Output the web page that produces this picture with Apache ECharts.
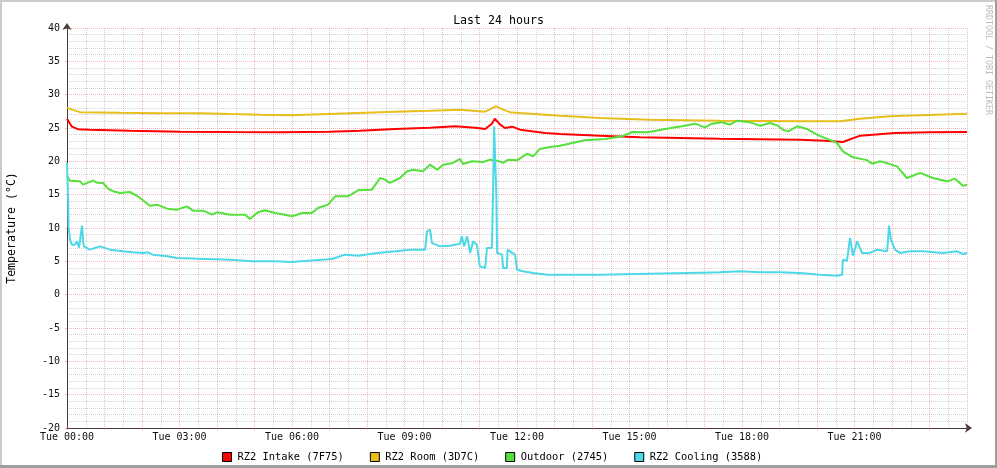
<!DOCTYPE html>
<html><head><meta charset="utf-8">
<script src="https://cdn.jsdelivr.net/npm/echarts@6/dist/echarts.min.js"></script>
<style>html,body{margin:0;padding:0;background:#fff}#c{width:997px;height:468px}</style>
</head><body><div id="c"></div>
<script>
// time in hours since Tue 00:00, value in °C
const seriesNames = ['RZ2 Intake (7F75)', 'RZ2 Room (3D7C)', 'Outdoor (2745)', 'RZ2 Cooling (3588)'];
const tickHours = [0, 3, 6, 9, 12, 15, 18, 21];
const tickLabels = ['Tue 00:00','Tue 03:00','Tue 06:00','Tue 09:00','Tue 12:00','Tue 15:00','Tue 18:00','Tue 21:00'];

const intake = [[0,26.4],[0.05,26.1],[0.13,25.2],[0.29,24.83],[0.61,24.75],[1.68,24.6],[3.01,24.45],[4.35,24.4],[5.68,24.38],[7.01,24.45],[7.81,24.6],[8.75,24.85],[9.68,25.05],[10.35,25.25],[10.88,25.05],[11.15,24.85],[11.33,25.65],[11.41,26.4],[11.55,25.5],[11.68,25.0],[11.87,25.2],[12.08,24.75],[12.75,24.26],[13.15,24.1],[14.21,23.85],[15.28,23.6],[17.41,23.4],[19.55,23.25],[20.21,23.1],[20.69,22.9],[21.15,23.85],[22.08,24.26],[23.01,24.38],[24,24.4]];

const room = [[0,28.05],[0.13,27.75],[0.35,27.38],[1.41,27.3],[2.48,27.23],[3.55,27.23],[4.35,27.1],[5.15,27.0],[5.95,26.93],[6.75,27.08],[7.55,27.23],[8.75,27.45],[9.68,27.6],[10.48,27.75],[11.15,27.45],[11.44,28.25],[11.63,27.75],[11.81,27.38],[12.08,27.26],[12.75,27.0],[13.15,26.85],[14.21,26.5],[15.55,26.25],[17.41,26.1],[19.55,26.0],[20.61,26.02],[21.15,26.4],[21.95,26.75],[23.15,27.0],[24,27.15]];

const outdoor = [[0,17.85],[0.08,17.1],[0.35,17.0],[0.43,16.5],[0.69,17.1],[0.8,16.8],[0.96,16.76],[1.09,15.9],[1.23,15.5],[1.41,15.26],[1.68,15.4],[1.89,14.75],[2.21,13.35],[2.4,13.5],[2.67,12.9],[2.93,12.75],[3.2,13.25],[3.36,12.6],[3.63,12.6],[3.87,12.0],[4.0,12.35],[4.35,12.0],[4.75,12.0],[4.88,11.36],[5.09,12.35],[5.28,12.65],[5.55,12.26],[5.81,12.0],[6.0,11.75],[6.27,12.26],[6.53,12.26],[6.69,13.0],[6.96,13.5],[7.15,14.75],[7.49,14.75],[7.76,15.65],[8.13,15.75],[8.35,17.5],[8.48,17.25],[8.61,16.76],[8.88,17.5],[9.07,18.5],[9.23,18.75],[9.49,18.5],[9.68,19.5],[9.87,18.75],[10.03,19.5],[10.29,19.76],[10.48,20.36],[10.56,19.6],[10.8,20.0],[11.09,19.9],[11.28,20.25],[11.47,20.1],[11.63,19.76],[11.76,20.25],[12.0,20.15],[12.27,21.15],[12.43,20.75],[12.61,21.86],[12.88,22.16],[13.15,22.35],[13.47,22.76],[13.81,23.15],[14.35,23.36],[14.8,23.75],[15.07,24.4],[15.49,24.35],[15.95,24.86],[16.4,25.25],[16.75,25.65],[17.01,25.1],[17.2,25.65],[17.47,25.85],[17.68,25.5],[17.87,26.1],[18.21,25.85],[18.48,25.35],[18.75,25.76],[18.96,25.35],[19.09,24.75],[19.23,24.5],[19.47,25.25],[19.73,24.86],[20.0,24.0],[20.27,23.36],[20.53,22.76],[20.69,21.5],[20.96,20.6],[21.33,20.18],[21.47,19.65],[21.68,20.0],[21.87,19.73],[22.13,19.25],[22.4,17.5],[22.75,18.26],[23.09,17.5],[23.47,17.0],[23.68,17.4],[23.89,16.35],[24,16.5]];

const cooling = [[0,19.76],[0.03,14.25],[0.04,10.25],[0.08,8.25],[0.13,7.5],[0.21,7.5],[0.27,8.0],[0.32,7.05],[0.37,6.75],[0.4,10.35],[0.43,7.95],[0.45,7.25],[0.61,6.75],[0.88,7.25],[1.15,6.75],[1.49,6.5],[1.76,6.35],[2.03,6.26],[2.16,6.35],[2.29,6.0],[2.67,5.75],[2.93,5.5],[3.73,5.36],[4.35,5.25],[4.93,5.0],[5.55,5.0],[6.0,4.9],[6.43,5.1],[7.07,5.36],[7.41,6.0],[7.76,5.85],[8.13,6.15],[8.48,6.35],[8.75,6.5],[9.15,6.75],[9.55,6.75],[9.6,9.5],[9.68,9.75],[9.73,7.76],[9.95,7.25],[10.21,7.35],[10.48,7.65],[10.53,8.75],[10.59,7.25],[10.67,8.75],[10.75,6.26],[10.83,8.0],[10.93,7.5],[11.01,4.25],[11.15,4.0],[11.2,7.0],[11.33,7.0],[11.36,14.75],[11.39,25.25],[11.44,25.25],[11.45,14.75],[11.47,6.26],[11.6,6.0],[11.63,4.0],[11.73,4.0],[11.75,6.75],[11.87,6.26],[11.95,6.0],[12.0,3.75],[12.16,3.5],[12.43,3.26],[12.8,3.0],[13.15,3.0],[14.21,3.0],[15.55,3.15],[16.88,3.3],[17.41,3.35],[17.95,3.5],[18.48,3.35],[19.01,3.35],[19.55,3.26],[20.08,3.0],[20.53,2.85],[20.67,3.0],[20.69,5.25],[20.8,5.1],[20.85,5.25],[20.88,8.5],[20.96,5.85],[21.07,8.0],[21.2,6.26],[21.41,6.26],[21.6,6.75],[21.87,6.5],[21.92,10.35],[21.97,8.25],[22.08,6.75],[22.21,6.26],[22.48,6.5],[22.83,6.5],[23.36,6.26],[23.73,6.5],[23.89,6.1],[24,6.26]];

const colors = ['#FF0000', '#E8BE1C', '#55E03C', '#4DD8E8'];
const FONT = 'DejaVu Sans Mono';
const chart = echarts.init(document.getElementById('c'), null, {renderer: 'canvas'});
const gridMajor = 'rgba(233,95,95,0.45)';
const gridMinor = 'rgba(143,143,143,0.40)';
const axisColor = '#4a3a3a';
const dataSets = [intake, room, outdoor, cooling];

chart.setOption({
  animation: false,
  backgroundColor: '#ffffff',
  title: {text: 'Last 24 hours', left: 'center', top: 10,
    textStyle: {fontFamily: FONT, fontSize: 11.6, fontWeight: 'normal', color: '#000'}},
  legend: {top: 447, left: 217, itemWidth: 9, itemHeight: 9, itemGap: 26, icon: 'rect',
    textStyle: {fontFamily: FONT, fontSize: 10.4, color: '#000', padding: [0,0,0,1]},
    itemStyle: {borderColor: '#000', borderWidth: 1},
    data: seriesNames},
  grid: {left: 67, top: 28, width: 900, height: 400, containLabel: false, outerBoundsMode: 'none'},
  xAxis: {type: 'value', min: 0, max: 24, interval: 1,
    axisLine: {show: true, onZero: false, lineStyle: {color: axisColor, width: 1}, symbol: ['none','arrow'], symbolSize: [7,7], symbolOffset: [0,5]},
    axisTick: {show: true, length: 2, lineStyle: {color: gridMajor}},
    axisLabel: {fontFamily: FONT, fontSize: 10, color: '#111', margin: 4,
      formatter: v => { const i = tickHours.indexOf(v); return i >= 0 ? tickLabels[i] : ''; }},
    splitLine: {show: true, lineStyle: {color: gridMajor, type: [1,1], width: 1}},
    minorTick: {show: false, splitNumber: 2},
    minorSplitLine: {show: true, lineStyle: {color: gridMinor, type: [1,1], width: 1}}},
  yAxis: {type: 'value', min: -20, max: 40, interval: 5,
    name: 'Temperature (°C)', nameLocation: 'middle', nameGap: 49, nameRotate: 90,
    nameTextStyle: {fontFamily: FONT, fontSize: 11.6, color: '#000'},
    axisLine: {show: true, onZero: false, lineStyle: {color: axisColor, width: 1}, symbol: ['none','arrow'], symbolSize: [7,7], symbolOffset: [0,5]},
    axisTick: {show: true, length: 2, lineStyle: {color: gridMajor}},
    axisLabel: {fontFamily: FONT, fontSize: 10, color: '#111', margin: 7},
    splitLine: {show: true, lineStyle: {color: gridMajor, type: [1,1], width: 1}},
    minorTick: {show: false, splitNumber: 5},
    minorSplitLine: {show: true, lineStyle: {color: gridMinor, type: [1,1], width: 1}}},
  series: dataSets.map((d, i) => ({
    name: seriesNames[i], type: 'line', data: d, showSymbol: false, symbol: 'none',
    color: colors[i], lineStyle: {width: 2, color: colors[i]}, itemStyle: {color: colors[i]},
    clip: false
  })),
  graphic: [
    {type: 'rect', shape: {x: 0, y: 0, width: 997, height: 2}, style: {fill: '#CBCBCB'}, silent: true},
    {type: 'rect', shape: {x: 0, y: 0, width: 2, height: 468}, style: {fill: '#CBCBCB'}, silent: true},
    {type: 'rect', shape: {x: 995, y: 0, width: 2, height: 468}, style: {fill: '#9E9E9E'}, silent: true},
    {type: 'rect', shape: {x: 0, y: 465, width: 997, height: 3}, style: {fill: '#9E9E9E'}, silent: true},
    {type: 'text', x: 988, y: 60, rotation: -Math.PI/2,
      style: {text: 'RRDTOOL / TOBI OETIKER', fontFamily: FONT, fontSize: 8.3, fill: '#BBBBBB', align: 'center', verticalAlign: 'middle'}, silent: true}
  ]
});
</script></body></html>
